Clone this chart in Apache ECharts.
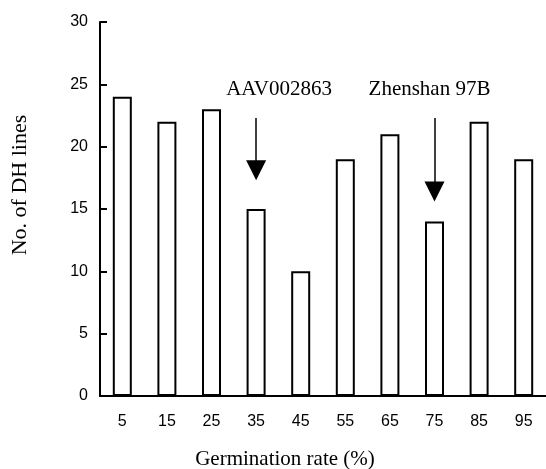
<!DOCTYPE html>
<html>
<head>
<meta charset="utf-8">
<script src="https://cdn.jsdelivr.net/npm/echarts@6/dist/echarts.min.js"></script>
<style>html,body{margin:0;padding:0;background:#fff}#c{width:546px;height:469px}</style>
</head>
<body>
<div id="c"></div>
<script>
var categories = ['5','15','25','35','45','55','65','75','85','95'];
var dhLines = [24,22,23,15,10,19,21,14,22,19];
var yTicks = [0,5,10,15,20,25,30];
var arrowNotes = [
  {name:'AAV002863', cat:'35', from:22.3, to:18.1, labelY:24.6, dx:23},
  {name:'Zhenshan 97B', cat:'75', from:22.3, to:16.4, labelY:24.6, dx:-5}
];
var xName = 'Germination rate (%)';
var yName = 'No. of DH lines';

var chart = echarts.init(document.getElementById('c'), null, {renderer:'canvas'});
var serif = '"Liberation Serif","Times New Roman",serif';
var sans = '"Liberation Sans",Arial,sans-serif';
chart.setOption({
  animation:false,
  backgroundColor:'#fff',
  grid:{left:100,right:-3,top:22,bottom:73,containLabel:false},
  xAxis:{
    type:'category', data:categories, boundaryGap:true,
    axisLine:{lineStyle:{color:'#000',width:2}},
    axisTick:{inside:true,length:5,lineStyle:{color:'#000',width:2}},
    axisLabel:{color:'#000',fontFamily:sans,fontSize:16,margin:18}
  },
  yAxis:{
    type:'value', min:yTicks[0], max:yTicks[yTicks.length-1], interval:5,
    axisLine:{show:true,lineStyle:{color:'#000',width:2}},
    axisTick:{show:true,inside:true,length:7,lineStyle:{color:'#000',width:2}},
    splitLine:{show:false},
    axisLabel:{color:'#000',fontFamily:sans,fontSize:16,margin:12}
  },
  graphic:[
    {type:'text',x:285,y:459,style:{text:xName,font:'21px '+serif,fill:'#000',align:'center',verticalAlign:'middle'}},
    {type:'text',rotation:Math.PI/2,x:20,y:185,style:{text:yName,font:'22px '+serif,fill:'#000',align:'center',verticalAlign:'middle'}}
  ],
  series:[{
    type:'bar', data:dhLines, barWidth:19,
    itemStyle:{color:'#fff',borderColor:'#000',borderWidth:2},
    markLine:{
      silent:true, symbol:['none','triangle'], symbolSize:[20,20],
      lineStyle:{color:'#000',width:1.5,type:'solid'},
      label:{show:false},
      data: arrowNotes.map(function(a){return [{coord:[a.cat,a.from]},{coord:[a.cat,a.to]}];})
    },
    markPoint:{
      silent:true, symbol:'circle', symbolSize:0,
      label:{show:true,color:'#000',fontFamily:serif,fontSize:21,position:'inside'},
      data: arrowNotes.map(function(a){return {coord:[a.cat,a.labelY],value:a.name,label:{formatter:a.name,offset:[a.dx,0]}};})
    }
  }]
});
</script>
</body>
</html>
